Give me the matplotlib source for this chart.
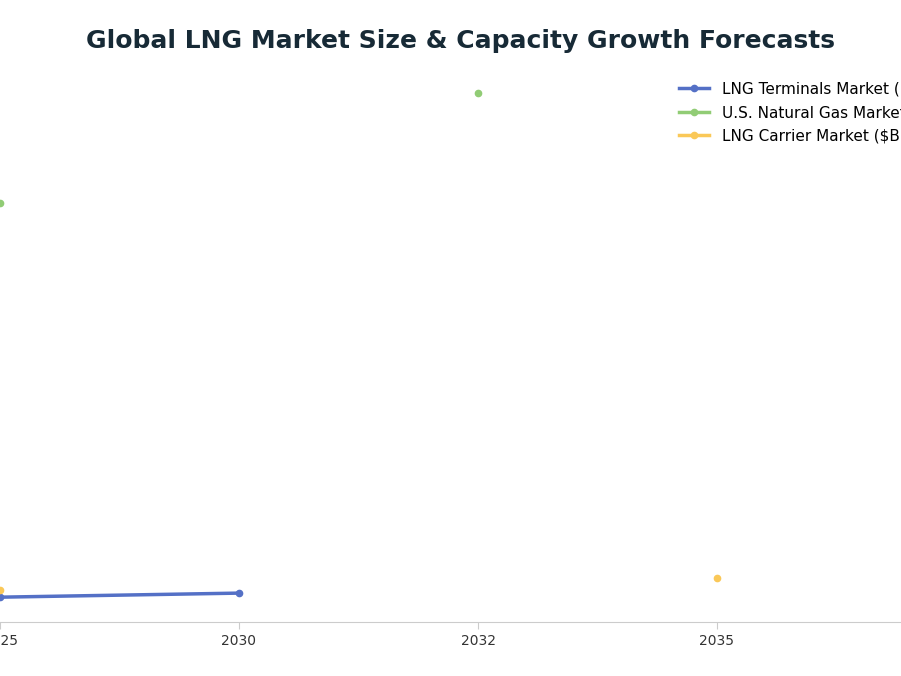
import matplotlib
matplotlib.use("Agg")
import matplotlib.pyplot as plt
import numpy as np

years = ["2025", "2030", "2032", "2035"]
terminals = [6.1, 7.1, np.nan, np.nan]
us_gas = [103.0, np.nan, 130.0, np.nan]
carrier = [7.9, np.nan, np.nan, 10.8]
series = [("LNG Terminals Market ($B)", terminals, "#5470c6"),
          ("U.S. Natural Gas Market ($B)", us_gas, "#91cc75"),
          ("LNG Carrier Market ($B)", carrier, "#fac858")]

fig = plt.figure(figsize=(9.01, 6.76), dpi=100)
ax = fig.add_axes([0, 1 - 622/676, 1, (622 - 70)/676])
x = np.arange(len(years))
for name, vals, c in series:
    ax.plot(x, vals, color=c, lw=2.5, marker="o", ms=4.5, label=name, clip_on=False)
ax.set_xlim(0, 901/239)
ax.set_ylim(0, (622-70)/529*130)
ax.set_xticks(x)
ax.set_xticklabels(years, fontsize=10, color="#333333")
ax.set_yticks([])
for s in ["top", "right", "left"]:
    ax.spines[s].set_visible(False)
ax.spines["bottom"].set_color("#cccccc")
ax.tick_params(axis="x", length=5, color="#cccccc")
fig.text(460/901, 1 - 41/676, "Global LNG Market Size & Capacity Growth Forecasts",
         ha="center", va="center", fontsize=18, fontweight="bold", color="#172a36")
fig.legend(loc="upper left", bbox_to_anchor=(665/901, 1 - 68/676), frameon=False,
           fontsize=11, handlelength=2, labelspacing=0.55)
fig.savefig("out.png", dpi=100)
